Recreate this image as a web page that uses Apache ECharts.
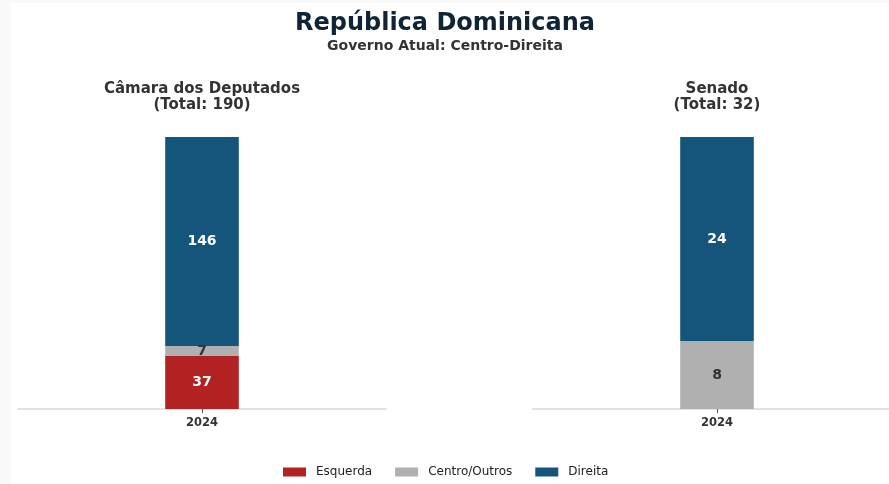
<!DOCTYPE html>
<html>
<head>
<meta charset="utf-8">
<script src="https://cdn.jsdelivr.net/npm/echarts@6/dist/echarts.min.js"></script>
<style>
  html, body { margin: 0; padding: 0; background: #f9f9f9; width: 889px; height: 484px; overflow: hidden; position: relative; }
  #chart { position: absolute; left: 11px; top: 3px; width: 900px; height: 481px; background: #ffffff; }
</style>
</head>
<body>
<div id="chart"></div>
<script>
// Seat distribution by chamber, 2024
const years = ['2024'];
const parties = ['Esquerda', 'Centro/Outros', 'Direita'];
const partyColors = ['#b22222', '#b0b0b0', '#15557c'];
const labelColors = ['#ffffff', '#333333', '#ffffff'];

const camaraSeats = [37, 7, 146];   // Esquerda, Centro/Outros, Direita
const senadoSeats = [0, 8, 24];

const camaraTotal = camaraSeats.reduce((a, b) => a + b, 0);
const senadoTotal = senadoSeats.reduce((a, b) => a + b, 0);

const FONT = 'DejaVu Sans';

function chamberSeries(values, gridIndex, stackName) {
  return parties.map((p, i) => ({
    name: p,
    type: 'bar',
    stack: stackName,
    xAxisIndex: gridIndex,
    yAxisIndex: gridIndex,
    barWidth: '20%',
    data: years.map(() => values[i]),
    itemStyle: { color: partyColors[i] },
    label: {
      show: true,
      position: 'inside',
      color: labelColors[i],
      fontFamily: FONT,
      fontWeight: 'bold',
      fontSize: 14,
      formatter: (d) => (d.value > 0 ? String(d.value) : '')
    },
    emphasis: { disabled: true }
  }));
}

function xAxisFor(gridIndex) {
  return {
    type: 'category',
    gridIndex: gridIndex,
    data: years,
    axisLine: { lineStyle: { color: '#e2e2e2', width: 2 } },
    axisTick: { show: true, alignWithLabel: true, length: 4, lineStyle: { color: '#555', width: 1 } },
    axisLabel: { color: '#333', fontFamily: FONT, fontWeight: 'bold', fontSize: 11.5, margin: 8 }
  };
}

function yAxisFor(gridIndex, max) {
  return {
    type: 'value',
    gridIndex: gridIndex,
    min: 0,
    max: max,
    show: false,
    splitLine: { show: false }
  };
}

const chart = echarts.init(document.getElementById('chart'), null, { renderer: 'canvas' });

chart.setOption({
  animation: false,
  backgroundColor: '#ffffff',
  textStyle: { fontFamily: FONT },
  title: [
    {
      text: 'República Dominicana',
      subtext: 'Governo Atual: Centro-Direita',
      left: 434, top: 9, textAlign: 'center', itemGap: 3, padding: 0,
      textStyle: { fontFamily: FONT, fontWeight: 'bold', fontSize: 24, color: '#0f2536' },
      subtextStyle: { fontFamily: FONT, fontWeight: 'bold', fontSize: 14, color: '#333333' }
    },
    {
      text: 'Câmara dos Deputados\n(Total: ' + camaraTotal + ')',
      left: 191, top: 78, textAlign: 'center', padding: 0,
      textStyle: { fontFamily: FONT, fontWeight: 'bold', fontSize: 15, lineHeight: 16, color: '#333333' }
    },
    {
      text: 'Senado\n(Total: ' + senadoTotal + ')',
      left: 706, top: 78, textAlign: 'center', padding: 0,
      textStyle: { fontFamily: FONT, fontWeight: 'bold', fontSize: 15, lineHeight: 16, color: '#333333' }
    }
  ],
  legend: {
    data: parties,
    bottom: 1,
    left: 267,
    itemWidth: 23,
    itemHeight: 9,
    itemGap: 23,
    icon: 'rect',
    textStyle: { fontFamily: FONT, fontSize: 12, color: '#222', padding: [0, 0, 0, 5] }
  },
  grid: [
    { left: 7, top: 134, width: 368, height: 272, containLabel: false },
    { left: 522, top: 134, width: 368, height: 272, containLabel: false }
  ],
  xAxis: [xAxisFor(0), xAxisFor(1)],
  yAxis: [yAxisFor(0, camaraTotal), yAxisFor(1, senadoTotal)],
  series: [
    ...chamberSeries(camaraSeats, 0, 'camara'),
    ...chamberSeries(senadoSeats, 1, 'senado')
  ]
});
</script>
</body>
</html>
